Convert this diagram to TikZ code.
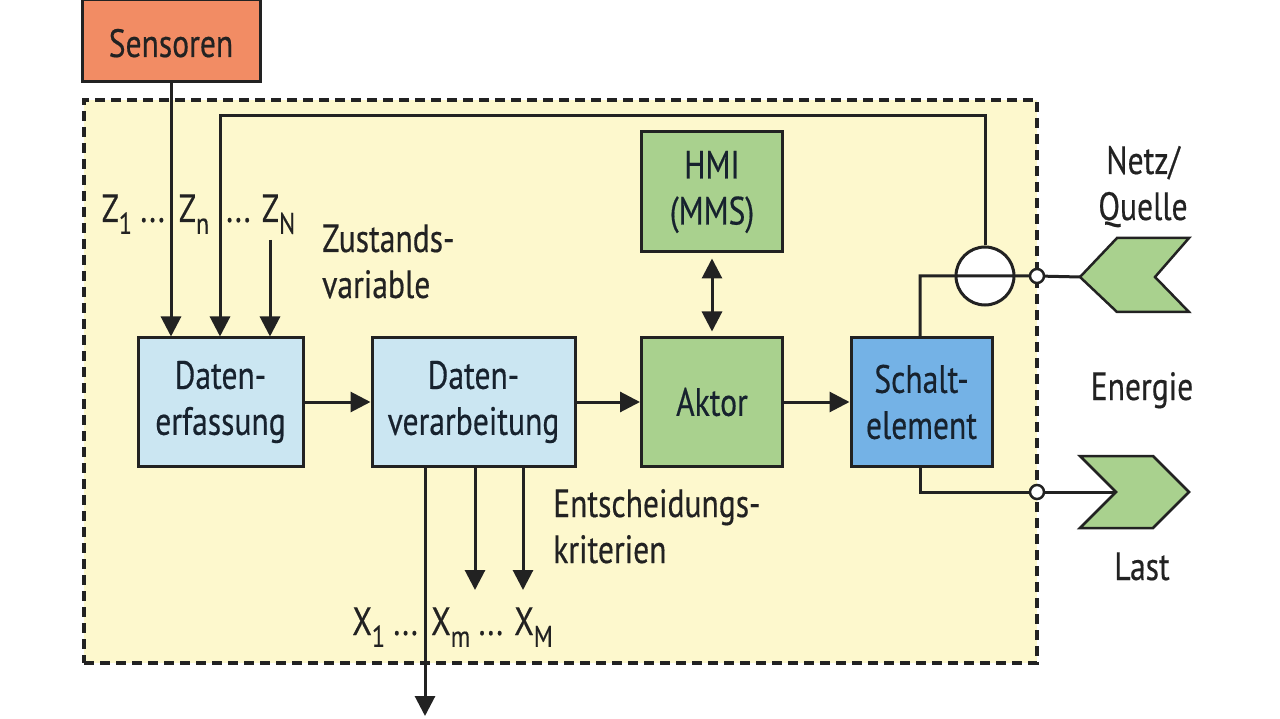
\documentclass[tikz,border=0pt]{standalone}
\usepackage{fontspec}
\setmainfont[FakeStretch=0.8,FakeBold=0.4]{PT Sans}
\usetikzlibrary{arrows.meta}
\definecolor{sensorfill}{HTML}{F28C64}
\definecolor{bgyellow}{HTML}{FDF8CD}
\definecolor{lightblue}{HTML}{CBE6F2}
\definecolor{greenbox}{HTML}{A9D18E}
\definecolor{schaltblue}{HTML}{74B2E6}
\definecolor{ink}{HTML}{222222}
\definecolor{boxink}{HTML}{17222E}
\newcommand{\bigtxt}{\fontsize{39.5}{46}\selectfont}
\newcommand{\lowidx}[1]{\raisebox{-0.3em}{\fontsize{30}{30}\selectfont #1}}
\tikzset{
  blk/.style={draw=ink, line width=3pt, align=center, text=boxink, font=\bigtxt, inner sep=0pt},
  lbl/.style={text=ink, font=\bigtxt, inner sep=0pt, anchor=base},
  lbll/.style={text=ink, font=\bigtxt, inner sep=0pt, anchor=base west, align=left},
  wire/.style={draw=ink, line width=3pt},
  arr/.style={wire, -{Triangle[length=20pt,width=20pt]}},
  darr/.style={wire, {Triangle[length=20pt,width=20pt]}-{Triangle[length=20pt,width=20pt]}},
  junc/.style={circle, draw=ink, fill=white, line width=2.5pt, minimum size=14pt, inner sep=0pt},
  chev/.style={draw=ink, fill=greenbox, line width=2.5pt, line join=miter}
}
\begin{document}
\begin{tikzpicture}[x=1pt,y=-1pt]
\useasboundingbox (0,0) rectangle (1280,719);
% system boundary
\node[draw=ink, fill=bgyellow, line width=3.5pt, dash pattern=on 10pt off 6pt, minimum width=953pt, minimum height=563pt, inner sep=0pt] (sys) at (560.5,381.5) {};
% boxes
\node[blk, fill=sensorfill, minimum width=178pt, minimum height=82pt] (sens) at (171,41) {};
\node[lbl] (senst) at (171,57) {Sensoren};
\node[blk, fill=lightblue, minimum width=165pt, minimum height=128pt] (erf) at (220.5,402) {Daten-\\erfassung};
\node[blk, fill=lightblue, minimum width=203pt, minimum height=128pt] (ver) at (473.5,402) {Daten-\\verarbeitung};
\node[blk, fill=greenbox, minimum width=141pt, minimum height=128pt] (akt) at (712,402) {Aktor};
\node[blk, fill=greenbox, minimum width=141pt, minimum height=120pt] (hmi) at (712,192) {HMI\\(MMS)};
\node[blk, fill=schaltblue, minimum width=141pt, minimum height=128pt] (sch) at (921.5,402) {Schalt-\\element};
% measuring circle
\node[circle, draw=ink, fill=white, line width=3pt, minimum size=58pt, inner sep=0pt] (meas) at (985,276) {};
% coordinates
\coordinate (fb) at (220,116);
\coordinate (zN) at (270,240);
\coordinate (jtop) at (1037,276);
\coordinate (jbot) at (1037,492);
\coordinate (xm) at (475,590);
\coordinate (xM) at (523,590);
\coordinate (xout) at (425,716);
% inputs
\draw[arr] (sens.south) -- (sens.south |- erf.north);
\draw[arr] (meas.north) |- (fb) -- (fb |- erf.north);
\draw[arr] (zN) -- (zN |- erf.north);
% chain
\draw[arr] (erf.east) -- (ver.west);
\draw[arr] (ver.east) -- (akt.west);
\draw[arr] (akt.east) -- (sch.west);
\draw[darr, shorten <=5pt, shorten >=5pt] (hmi.south) -- (akt.north);
% outputs
\draw[arr] (xout |- ver.south) -- (xout);
\draw[arr] (xm |- ver.south) -- (xm);
\draw[arr] (xM |- ver.south) -- (xM);
% chevrons
\draw[chev] (1080,277) -- (1117,238) -- (1189,238) -- (1155,277) -- (1189,312) -- (1117,312) -- cycle;
\coordinate (netz) at (1080,277);
\draw[chev] (1080,456) -- (1153,456) -- (1189,492) -- (1153,528) -- (1080,528) -- (1116,492) -- cycle;
\coordinate (last) at (1116,492);
% power lines
\draw[wire] (sch.north -| 920,0) |- (jtop) -- (netz);
\draw[wire] (sch.south -| 920,0) |- (jbot) -- (last);
\node[junc] (j1) at (jtop) {};
\node[junc] (j2) at (jbot) {};
% labels
\node[lbl, anchor=base east] (z1) at (165,222) {Z\lowidx{1} ...};
\node[lbl] (zn) at (194,222) {Z\lowidx{n}};
\node[lbl, anchor=base west] (zNl) at (226,222) {... Z\lowidx{N}};
\node[lbll] (zust) at (322,298) {Zustands-\\variable};
\node[lbll] (ents) at (553,563) {Entscheidungs-\\kriterien};
\node[lbl, anchor=base east] (x1) at (418,635) {X\lowidx{1} ...};
\node[lbl, anchor=base west] (xml) at (431,635) {X\lowidx{m} ... X\lowidx{M}};
\node[lbl, align=center] (netzl) at (1143,220) {Netz/\\Quelle};
\node[lbl] (energ) at (1142,400) {Energie};
\node[lbl] (lastl) at (1142,580) {Last};
\end{tikzpicture}
\end{document}
